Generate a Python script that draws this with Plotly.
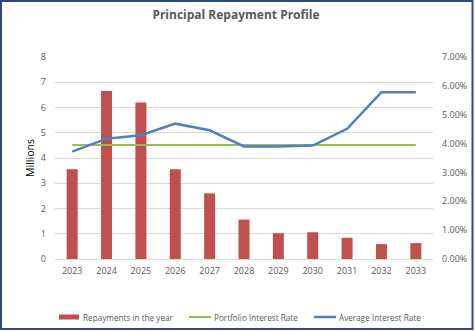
import plotly.graph_objects as go

years = ["2023", "2024", "2025", "2026", "2027", "2028", "2029", "2030", "2031", "2032", "2033"]
repayments = [3.55, 6.65, 6.2, 3.55, 2.6, 1.56, 1.02, 1.06, 0.84, 0.59, 0.63]
portfolio_rate = [0.0395] * 11
average_rate = [0.0372, 0.0417, 0.0429, 0.0469, 0.0446, 0.0390, 0.0390, 0.0393, 0.0451, 0.0578, 0.0578]
series_names = ["Repayments in the year", "Portfolio Interest Rate", "Average Interest Rate"]
series_colors = ["#C0504D", "#9BBB59", "#4F81BD"]

W, H = 475, 331
L, R, T, B = 55, 42, 57, 72
pw, ph = W - L - R, H - T - B

def px2paper_x(x):
    return (x - L) / pw

def px2paper_y(y):
    return 1 - (y - T) / ph

grey = "#595959"
font = "Open Sans"

fig = go.Figure()
fig.add_trace(go.Bar(
    x=years, y=repayments, name=series_names[0],
    marker=dict(color=series_colors[0], line=dict(width=0)), yaxis="y",
))
fig.add_trace(go.Scatter(
    x=years, y=portfolio_rate, name=series_names[1], mode="lines",
    line=dict(color=series_colors[1], width=2), yaxis="y2",
))
fig.add_trace(go.Scatter(
    x=years, y=average_rate, name=series_names[2], mode="lines",
    line=dict(color=series_colors[2], width=2.5), yaxis="y2",
))

fig.update_layout(
    width=W, height=H,
    margin=dict(l=L, r=R, t=T, b=B, pad=0, autoexpand=False),
    paper_bgcolor="white", plot_bgcolor="white",
    font=dict(family=font, color=grey, size=9),
    title=dict(text="<b>Principal Repayment Profile</b>", x=px2paper_x(236), xref="paper",
               xanchor="center", y=1 - 15 / H, yanchor="middle",
               font=dict(size=12, color=grey, family=font)),
    bargap=0.68,
    showlegend=False,
    xaxis=dict(type="category", showgrid=False, showline=True, linecolor="#D9D9D9", linewidth=1,
               ticks="", tickfont=dict(size=9, color=grey), zeroline=False, ticklabelstandoff=3),
    yaxis=dict(range=[0, 8], dtick=1, showgrid=True, gridcolor="#D9D9D9", gridwidth=1,
               zeroline=False, ticks="", tickfont=dict(size=9, color=grey), ticklabelstandoff=8,
               title=dict(text="Millions", font=dict(size=10.5, color="#000000"), standoff=4)),
    yaxis2=dict(range=[0, 0.07], dtick=0.01, tickformat=".2%", overlaying="y", side="right",
                showgrid=False, zeroline=False, ticks="", tickfont=dict(size=9, color=grey),
                ticklabelstandoff=8),
)

# custom legend
leg_y = 317
sym_x = [59, 189, 314]
for i, (nm, col) in enumerate(zip(series_names, series_colors)):
    x0 = sym_x[i]
    if i == 0:
        fig.add_shape(type="rect", xref="paper", yref="paper",
                      x0=px2paper_x(x0), x1=px2paper_x(x0 + 20),
                      y0=px2paper_y(leg_y + 2.5), y1=px2paper_y(leg_y - 2.5),
                      line=dict(width=0), fillcolor=col)
    else:
        fig.add_shape(type="line", xref="paper", yref="paper",
                      x0=px2paper_x(x0), x1=px2paper_x(x0 + 22),
                      y0=px2paper_y(leg_y), y1=px2paper_y(leg_y),
                      line=dict(color=col, width=2 if i == 1 else 2.5))
    fig.add_annotation(text=nm, xref="paper", yref="paper",
                       x=px2paper_x(x0 + (22 if i == 0 else 23)), y=px2paper_y(leg_y),
                       xanchor="left", yanchor="middle", showarrow=False,
                       font=dict(size=8.2, color=grey, family=font))

fig.add_shape(type="rect", xref="paper", yref="paper",
              x0=px2paper_x(1), x1=px2paper_x(472.5), y0=px2paper_y(329), y1=px2paper_y(1),
              line=dict(color="#2E4A7A", width=2), fillcolor="rgba(0,0,0,0)", layer="above")

fig.write_html("out.html")
